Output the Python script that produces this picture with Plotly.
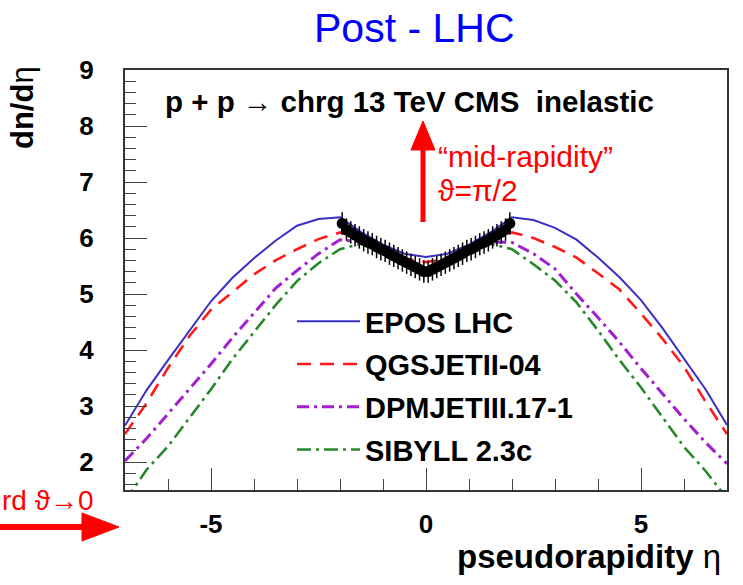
import plotly.graph_objects as go

# ---------------- data ----------------
eta_model = [-7, -6.5, -6, -5.5, -5, -4.5, -4, -3.5, -3, -2.5, -2, -1.5, -1, -0.5, 0,
             0.5, 1, 1.5, 2, 2.5, 3, 3.5, 4, 4.5, 5, 5.5, 6, 6.5, 7]

epos = [2.65, 3.28, 3.82, 4.35, 4.87, 5.29, 5.64, 5.95, 6.22, 6.34, 6.37, 6.10, 5.88, 5.72, 5.66,
        5.72, 5.88, 6.10, 6.37, 6.32, 6.18, 5.97, 5.65, 5.30, 4.89, 4.39, 3.85, 3.30, 2.66]
qgsjet = [2.50, 3.05, 3.68, 4.25, 4.72, 5.04, 5.35, 5.60, 5.80, 5.98, 6.10, 5.98, 5.80, 5.63, 5.57,
          5.63, 5.80, 5.98, 6.10, 6.00, 5.84, 5.65, 5.37, 5.08, 4.65, 4.20, 3.70, 3.08, 2.50]
dpmjet = [2.02, 2.42, 2.86, 3.30, 3.75, 4.22, 4.66, 5.10, 5.42, 5.72, 5.97, 5.93, 5.74, 5.55, 5.47,
          5.55, 5.74, 5.93, 5.92, 5.72, 5.45, 5.00, 4.58, 4.14, 3.67, 3.22, 2.77, 2.35, 1.97]
sibyll = [1.30, 1.86, 2.28, 2.78, 3.30, 3.84, 4.33, 4.80, 5.23, 5.55, 5.80, 5.90, 5.72, 5.52, 5.42,
          5.52, 5.72, 5.90, 5.80, 5.53, 5.24, 4.85, 4.35, 3.82, 3.33, 2.80, 2.27, 1.84, 1.35]

eta_cms = [-1.95, -1.85, -1.75, -1.65, -1.55, -1.45, -1.35, -1.25, -1.15, -1.05,
           -0.95, -0.85, -0.75, -0.65, -0.55, -0.45, -0.35, -0.25, -0.15, -0.05,
           0.05, 0.15, 0.25, 0.35, 0.45, 0.55, 0.65, 0.75, 0.85, 0.95,
           1.05, 1.15, 1.25, 1.35, 1.45, 1.55, 1.65, 1.75, 1.85, 1.95]
dndeta_cms = [6.26, 6.15, 6.10, 6.05, 6.01, 5.96, 5.92, 5.89, 5.84, 5.80,
              5.77, 5.72, 5.68, 5.64, 5.60, 5.56, 5.52, 5.48, 5.44, 5.40,
              5.40, 5.44, 5.48, 5.52, 5.56, 5.60, 5.64, 5.68, 5.72, 5.77,
              5.80, 5.84, 5.89, 5.92, 5.96, 6.01, 6.05, 6.10, 6.15, 6.26]
err_cms = [0.2] * len(eta_cms)

model_names = ["EPOS LHC", "QGSJETII-04", "DPMJETIII.17-1", "SIBYLL 2.3c"]

# ---------------- layout geometry (pixels) ----------------
W, H = 743, 585
L, R, T, B = 125, 16, 70, 95
PW, PH = W - L - R, H - T - B


def px2x(px):
    return (px - L) / PW


def py2y(py):
    return (H - B - py) / PH


FONT = "Liberation Sans, Arial, Helvetica, sans-serif"

fig = go.Figure()

styles = [
    dict(color="#3a2fc4", width=2, dash="solid"),
    dict(color="#ff1a1a", width=2.6, dash="14px,9px"),
    dict(color="#a01fd0", width=3, dash="12px,5px,3px,5px"),
    dict(color="#26882a", width=2.6, dash="14px,5px,3px,5px"),
]
for name, ys, st in zip(model_names, [epos, qgsjet, dpmjet, sibyll], styles):
    fig.add_trace(go.Scatter(x=eta_model, y=ys, mode="lines", name=name,
                             legendgroup=name, line=st))

fig.add_trace(go.Scatter(
    x=eta_cms, y=dndeta_cms, mode="markers", showlegend=False,
    marker=dict(color="black", size=11),
    error_y=dict(type="data", array=err_cms, color="black", thickness=1.5, width=0),
))

fig.update_layout(
    width=W, height=H,
    margin=dict(l=L, r=R, t=T, b=B),
    paper_bgcolor="white", plot_bgcolor="white",
    showlegend=True,
    legend=dict(x=px2x(292), y=py2y(296), xanchor="left", yanchor="top",
                bgcolor="rgba(0,0,0,0)", borderwidth=0, itemwidth=63,
                tracegroupgap=2,
                font=dict(family=FONT, size=29, color="black", weight="bold")),
    font=dict(family=FONT, color="black"),
)

fig.update_xaxes(
    range=[-7, 7], tickmode="linear", tick0=0, dtick=5,
    labelalias={"\u22125": "-5"},
    ticks="inside", ticklen=22, tickwidth=1, tickcolor="#444",
    minor=dict(dtick=1, tick0=0, ticks="inside", ticklen=11, tickcolor="#444", tickwidth=1),
    showgrid=False, zeroline=False,
    showline=True, mirror=True, linecolor="#333", linewidth=2,
    tickfont=dict(family=FONT, size=26, color="black", weight="bold"),
    ticklabelstandoff=10,
)
fig.update_yaxes(
    range=[1.5, 9], tickmode="linear", tick0=0, dtick=1,
    ticks="inside", ticklen=22, tickwidth=1, tickcolor="#444",
    minor=dict(dtick=0.2, tick0=0, ticks="inside", ticklen=11, tickcolor="#444", tickwidth=1),
    showgrid=False, zeroline=False,
    showline=True, mirror=True, linecolor="#333", linewidth=2,
    tickfont=dict(family=FONT, size=26, color="black", weight="bold"),
    ticklabelstandoff=24,
)

ann = [
    dict(text="Post - LHC", x=px2x(414), y=py2y(28), xanchor="center", yanchor="middle",
         font=dict(family=FONT, size=41, color="#0000ff")),
    dict(text="<b>p + p</b> \u2192 <b>chrg 13 TeV CMS\u00a0 inelastic</b>", x=px2x(163), y=py2y(102),
         xanchor="left", yanchor="middle", font=dict(family=FONT, size=29.5, color="black")),
    dict(text="\u201cmid-rapidity\u201d", x=px2x(436), y=py2y(156), xanchor="left", yanchor="middle",
         font=dict(family=FONT, size=30, color="#ff0000")),
    dict(text="\u03d1=\u03c0/2", x=px2x(436), y=py2y(190), xanchor="left", yanchor="middle",
         font=dict(family=FONT, size=30, color="#ff0000")),
    dict(text="rd \u03d1\u21920", x=px2x(0), y=py2y(501), xanchor="left", yanchor="middle",
         font=dict(family=FONT, size=28, color="#ff0000")),
    dict(text="<b>dn/d</b>\u03b7", x=px2x(22), y=py2y(108), xanchor="center", yanchor="middle",
         textangle=-90, font=dict(family=FONT, size=31, color="black")),
    dict(text="<b>pseudorapidity</b> \u03b7", x=px2x(723), y=py2y(556), xanchor="right", yanchor="middle",
         font=dict(family=FONT, size=33, color="black")),
]
for a in ann:
    a.update(xref="paper", yref="paper", showarrow=False)
    fig.add_annotation(**a)


def tri(p1, p2, p3):
    pts = [p1, p2, p3]
    return "M " + " L ".join(f"{px2x(a):.5f},{py2y(b):.5f}" for a, b in pts) + " Z"


shapes = [
    dict(type="line", x0=px2x(423), x1=px2x(423), y0=py2y(222), y1=py2y(146),
         line=dict(color="#ff0000", width=5)),
    dict(type="path", path=tri((423, 121), (411, 150), (435, 150)),
         fillcolor="#ff0000", line=dict(color="#ff0000", width=1)),
    dict(type="line", x0=px2x(-2), x1=px2x(86), y0=py2y(527), y1=py2y(527),
         line=dict(color="#ff0000", width=6)),
    dict(type="path", path=tri((119, 527), (82, 513), (82, 541)),
         fillcolor="#ff0000", line=dict(color="#ff0000", width=1)),
]
for s in shapes:
    s.update(xref="paper", yref="paper", layer="above")
    fig.add_shape(**s)

fig.write_html("out.html")
